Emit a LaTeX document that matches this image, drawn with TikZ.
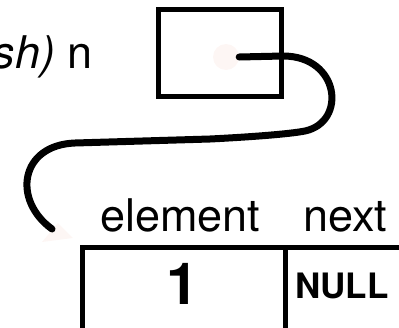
\documentclass[tikz,border=0pt]{standalone}
\usepackage{fontspec}
\setmainfont{TeX Gyre Heros}
\definecolor{faint}{HTML}{FDF6F4}
\begin{document}
\begin{tikzpicture}[x=1pt,y=-1pt,
  box/.style={draw=black,line width=5pt},
  wire/.style={draw=black,line width=7pt,line cap=round},
  lbl/.style={inner sep=0pt,anchor=base west,font=\fontsize{45}{50}\selectfont},
]
\useasboundingbox (0,0) rectangle (399,327);
% label at the top left
\node[inner sep=0pt,anchor=base east,font=\fontsize{45}{50}\selectfont] (name) at (93,68) {\textit{sh)} n};
% pointer box
\node[box,minimum width=122.5pt,minimum height=86.5pt,inner sep=0pt] (ptr) at (219.75,52.75) {};
\node[circle,fill=faint,minimum size=26pt,inner sep=0pt] (dot) at (226,57) {};
% faint arrow tip
\fill[faint] (58,223) -- (42,242) -- (73,238) -- cycle;
% table headings
\node[lbl] (elem) at (100,231) {element};
\node[lbl] (next) at (303,231) {next};
% table
\coordinate (tl) at (82.5,247);
\coordinate (tr) at (420,247);
\coordinate (bl) at (82.5,340);
\coordinate (dv) at (285.5,247);
\coordinate (dvb) at (285.5,340);
\draw[box] (bl) -- (tl) -- (tr);
\draw[box] (dv) -- (dvb);
\node[inner sep=0pt,font=\fontsize{58}{60}\bfseries\selectfont] (one) at (182.5,284) {1};
\node[inner sep=0pt,anchor=base west,font=\fontsize{35}{40}\bfseries\selectfont] (null) at (295,298) {NULL};
% wire
\coordinate (wend) at (52,229);
\draw[wire] (dot.east) -- (283,56) .. controls (340,56) and (347,122) .. (305,131)
  .. controls (290,134) and (250,137) .. (210,139) -- (75,143)
  .. controls (20,145) and (12,200) .. (wend);
\end{tikzpicture}
\end{document}
